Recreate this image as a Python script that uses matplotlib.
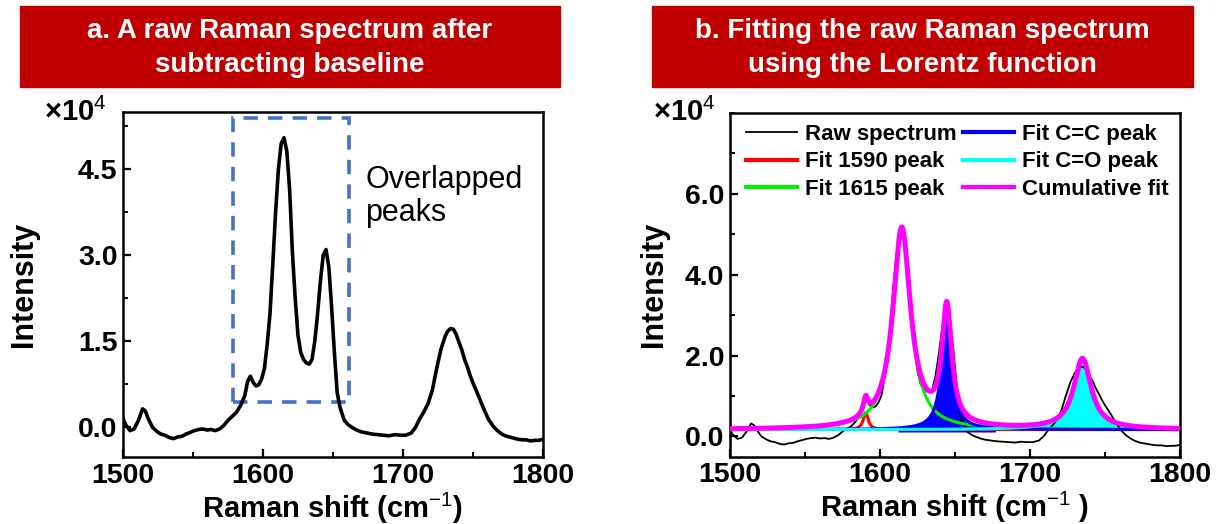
import numpy as np
import matplotlib
matplotlib.use("Agg")
import matplotlib.pyplot as plt
from matplotlib.patches import Rectangle
from matplotlib.ticker import MultipleLocator

plt.rcParams['font.family'] = ['Liberation Sans', 'DejaVu Sans']
plt.rcParams['mathtext.fontset'] = 'custom'
plt.rcParams['mathtext.rm'] = 'Liberation Sans'
plt.rcParams['mathtext.bf'] = 'Liberation Sans:bold'

# raw spectrum after baseline subtraction (intensity in units of 1e4)
shift = [1500, 1502, 1505, 1508, 1511, 1514, 1516, 1518, 1521, 1524, 1527, 1530,
         1533, 1536, 1539, 1542, 1545, 1548, 1551, 1554, 1557, 1560, 1563, 1566,
         1569, 1572, 1575, 1578, 1581, 1584, 1587, 1589, 1591, 1593, 1595, 1597,
         1599, 1601, 1603, 1605, 1607, 1609, 1611, 1613, 1615, 1617, 1619, 1621,
         1623, 1625, 1627, 1629, 1631, 1633, 1635, 1637, 1639, 1641, 1643, 1645,
         1647, 1649, 1651, 1653, 1655, 1658, 1661, 1664, 1667, 1670, 1674, 1678,
         1682, 1686, 1690, 1694, 1698, 1702, 1706, 1709, 1712, 1715, 1718, 1721,
         1724, 1727, 1730, 1732, 1734, 1736, 1738, 1740, 1742, 1744, 1746, 1748,
         1750, 1752, 1755, 1758, 1761, 1764, 1767, 1770, 1773, 1776, 1779, 1782,
         1785, 1788, 1791, 1794, 1797, 1800]
raw = [0.15, 0.04, -0.06, -0.03, 0.12, 0.32, 0.28, 0.15, 0.00, -0.07, -0.12, -0.14,
       -0.18, -0.20, -0.17, -0.16, -0.12, -0.09, -0.06, -0.04, -0.03, -0.05, -0.04, -0.06,
       -0.03, 0.03, 0.12, 0.19, 0.26, 0.38, 0.55, 0.80, 0.89, 0.78, 0.72, 0.74,
       0.84, 1.02, 1.45, 1.98, 2.85, 3.75, 4.50, 4.95, 5.05, 4.82, 4.15, 3.05,
       2.25, 1.60, 1.30, 1.18, 1.12, 1.10, 1.18, 1.50, 1.98, 2.55, 3.00, 3.10,
       2.80, 2.10, 1.30, 0.60, 0.35, 0.12, 0.04, -0.01, -0.05, -0.08, -0.10, -0.12,
       -0.13, -0.14, -0.15, -0.13, -0.14, -0.14, -0.10, 0.00, 0.15, 0.27, 0.42, 0.65,
       1.02, 1.35, 1.58, 1.68, 1.72, 1.71, 1.62, 1.48, 1.35, 1.18, 1.05, 0.90,
       0.77, 0.66, 0.48, 0.30, 0.14, 0.03, -0.05, -0.11, -0.15, -0.17, -0.19, -0.21,
       -0.22, -0.22, -0.24, -0.23, -0.23, -0.21]

# Lorentz fit parameters: centre, FWHM, height above offset
fit_offset = 0.17
peak_labels = ['Fit 1590 peak', 'Fit 1615 peak', 'Fit C=C peak', 'Fit C=O peak']
peak_centers = [1590.5, 1614.5, 1644.5, 1735.0]
peak_fwhm = [4.0, 14.3, 7.8, 14.0]
peak_heights = [0.42, 4.95, 2.89, 1.74]
peak_colors = ['#ff0000', '#00ee00', '#0000ff', '#00ffff']

cc_fill_range = (1612, 1677)
co_fill_range = (1705, 1765)


def lorentz(x, xc, w, h):
    return h * w ** 2 / (4 * (x - xc) ** 2 + w ** 2)


def style_axes(ax):
    for sp in ax.spines.values():
        sp.set_linewidth(1.8)
    ax.tick_params(which='both', direction='in', top=False, right=False,
                   labelsize=20.5, pad=4)
    ax.tick_params(which='major', length=6, width=1.6)
    ax.tick_params(which='minor', length=3.5, width=1.4)
    for lab in ax.get_xticklabels() + ax.get_yticklabels():
        lab.set_fontweight('bold')


def axis_labels(ax, xtext, ylab_x):
    ax.set_xlabel(xtext, fontsize=21, fontweight='bold')
    ax.xaxis.set_label_coords(0.5, -0.176)
    ax.xaxis.label.set_va('baseline')
    ax.set_ylabel('Intensity', fontsize=22, fontweight='bold')
    ax.yaxis.set_label_coords(ylab_x, 0.5)


fig = plt.figure(figsize=(12.18, 5.24), dpi=100)

# red title banners
W, H = 1218, 524
for x0, x1, title in [(20, 560, 'a. A raw Raman spectrum after\nsubtracting baseline'),
                      (652, 1193, 'b. Fitting the raw Raman spectrum\nusing the Lorentz function')]:
    fig.patches.append(Rectangle((x0 / W, 1 - 87 / H), (x1 - x0) / W, 81 / H,
                                 transform=fig.transFigure, color='#c00000', zorder=0))
    fig.text((x0 + x1) / 2 / W, 1 - 48 / H, title, ha='center', va='center',
             color='white', fontsize=20, fontweight='bold', linespacing=1.35)

# ---- panel a ----
ax1 = fig.add_axes([123 / W, 1 - 457 / H, 420 / W, 345 / H])
ax1.plot(shift, raw, color='black', lw=2.6, solid_joinstyle='round')
ax1.set_xlim(1500, 1800)
ax1.set_ylim(-0.52, 5.5)
ax1.set_xticks([1500, 1600, 1700, 1800])
ax1.xaxis.set_minor_locator(MultipleLocator(50))
ax1.set_yticks([0, 1.5, 3.0, 4.5])
ax1.set_yticklabels(['0.0', '1.5', '3.0', '4.5'])
ax1.yaxis.set_minor_locator(MultipleLocator(0.75))
style_axes(ax1)
axis_labels(ax1, 'Raman shift (cm$^{-1}$)', -0.2)
ax1.text(-0.04, 1.0, '×10$^{4}$', transform=ax1.transAxes, ha='right', va='center',
         fontsize=21, fontweight='bold')

box = Rectangle((1578.5, 0.44), 1661.5 - 1578.5, 5.39 - 0.44, fill=False,
                edgecolor='#4472c4', lw=2.6, linestyle=(0, (4.0, 2.8)))
ax1.add_patch(box)
ax1.text(1673, 4.03, 'Overlapped\npeaks', fontsize=22, ha='left', va='center',
         linespacing=1.15)

# ---- panel b ----
ax2 = fig.add_axes([730 / W, 1 - 456.7 / H, 450 / W, 344 / H])
xs = np.linspace(1500, 1800, 1501)
comps = [lorentz(xs, c, w, h) for c, w, h in zip(peak_centers, peak_fwhm, peak_heights)]
cumulative = fit_offset + np.sum(comps, axis=0)

cc = comps[2]
m = (xs >= cc_fill_range[0]) & (xs <= cc_fill_range[1])
ax2.fill_between(xs[m], fit_offset - 0.06, fit_offset + cc[m], color='#0000ff', lw=0, zorder=1)
co = comps[3]
m = (xs >= co_fill_range[0]) & (xs <= co_fill_range[1])
ax2.fill_between(xs[m], fit_offset, fit_offset + co[m], color='#00ffff', lw=0, zorder=1)

h_raw, = ax2.plot(shift, raw, color='black', lw=1.3, zorder=2, label='Raw spectrum')
handles = {}
for lab, col, comp in zip(peak_labels, peak_colors, comps):
    handles[lab], = ax2.plot(xs, fit_offset + comp, color=col, lw=2.2, zorder=3, label=lab)
h_cum, = ax2.plot(xs, cumulative, color='#ff00ff', lw=3.6, zorder=4, label='Cumulative fit')

ax2.set_xlim(1500, 1800)
ax2.set_ylim(-0.5, 8.0)
ax2.set_xticks([1500, 1600, 1700, 1800])
ax2.xaxis.set_minor_locator(MultipleLocator(50))
ax2.set_yticks([0, 2, 4, 6])
ax2.set_yticklabels(['0.0', '2.0', '4.0', '6.0'])
ax2.yaxis.set_minor_locator(MultipleLocator(1))
style_axes(ax2)
axis_labels(ax2, 'Raman shift (cm$^{-1}$ )', -0.135)
ax2.text(-0.033, 1.0, '×10$^{4}$', transform=ax2.transAxes, ha='right', va='center',
         fontsize=21, fontweight='bold')

leg_handles = [h_raw, handles['Fit 1590 peak'], handles['Fit 1615 peak'],
               handles['Fit C=C peak'], handles['Fit C=O peak'], h_cum]
leg = ax2.legend(handles=leg_handles, ncol=2, loc='upper right', frameon=False,
                 bbox_to_anchor=(1.0, 1.0), borderaxespad=0.3, borderpad=0.2,
                 handlelength=2.3, handletextpad=0.35, columnspacing=0.3,
                 labelspacing=0.3, prop={'size': 16, 'weight': 'bold'})
for line in leg.get_lines():
    if line.get_color() != 'black':
        line.set_linewidth(3.0)

fig.savefig('out.png', dpi=100)
